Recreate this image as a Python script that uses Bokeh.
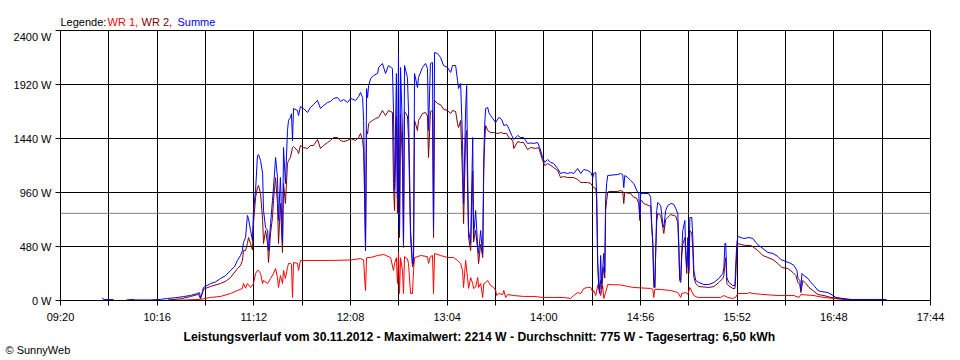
from bokeh.plotting import figure
from bokeh.models import FixedTicker, Span, ColumnDataSource, Title
from bokeh.layouts import column
from bokeh.core.properties import value
from bokeh.embed import file_html
from bokeh.resources import INLINE

NAN = float("nan")

# ---- data: time in minutes of the day, power in W ----
X_TICK_LABELS = ["09:20", "10:16", "11:12", "12:08", "13:04", "14:00", "14:56", "15:52", "16:48", "17:44"]
Y_TICKS = [0, 480, 960, 1440, 1920, 2400]
AVERAGE = 775
TITLE = "Leistungsverlauf vom 30.11.2012 - Maximalwert: 2214 W - Durchschnitt: 775 W - Tagesertrag: 6,50 kWh"
LEGEND_TEXTS = ["Legende:", "WR 1,", "WR 2,", "Summe"]
LEGEND_COLORS = ["black", "#FF0000", "#800000", "#0000FF"]

sum_t = [584.3, 584.9, 590.7, 594.2, 598.2, 602.3, 603.5, 612.1, 617.9, 622.0, 626.6, 631.3, 635.3, 638.8, 640.5,
         641.1, 642.3, 642.8, 646.9, 649.8, 652.7, 655.6, 658.5, 660.8, 662.5, 664.3, 665.4, 666.0, 667.2, 668.3,
         668.9, 670.1, 671.2, 671.8, 673.0, 674.1, 674.7, 675.9, 677.1, 677.6, 678.8, 680.0, 680.5, 681.7, 682.8,
         683.4, 684.6, 685.7, 686.3, 687.4, 688.6, 689.2, 690.3, 691.5, 692.1, 693.2, 693.8, 694.4, 695.0, 697.3,
         697.9, 699.0, 700.8, 703.1, 704.8, 706.6, 708.9, 710.6, 712.4, 714.7, 716.4, 718.2, 720.5, 722.3, 724.0,
         726.3, 728.1, 731.0, 732.7, 733.8, 735.0, 735.6, 736.2, 736.7, 737.3, 737.9, 738.5, 739.7, 741.4, 743.7,
         744.3, 746.5, 748.3, 750.0, 752.3, 752.9, 753.5, 754.6, 755.2, 755.8, 756.4, 757.0, 758.1, 758.7, 759.3,
         761.0, 761.6, 762.8, 763.9, 764.5, 765.1, 766.8, 767.4, 769.7, 771.5, 772.6, 773.2, 774.3, 775.5, 776.1,
         776.7, 778.4, 780.2, 781.9, 784.2, 786.0, 787.1, 788.9, 790.0, 790.6, 791.8, 792.9, 793.5, 794.7, 795.3,
         795.8, 796.4, 797.6, 798.8, 799.3, 800.5, 801.7, 802.2, 803.4, 804.0, 804.6, 805.2, 805.7, 806.3, 807.5,
         808.1, 809.2, 810.4, 812.1, 813.9, 815.6, 816.8, 818.5, 819.7, 821.4, 822.6, 824.9, 826.5, 828.3, 830.6,
         832.4, 834.1, 836.4, 837.6, 839.3, 840.5, 842.2, 844.0, 845.7, 848.0, 849.7, 851.5, 853.8, 855.5, 857.3,
         859.6, 861.4, 863.1, 865.4, 867.2, 868.4, 868.9, 870.1, 870.6, 871.2, 871.8, 872.4, 872.9, 873.5, 874.1,
         874.7, 875.3, 875.8, 876.4, 877.0, 882.8, 884.5, 885.7, 886.3, 886.9, 888.6, 890.3, 892.1, 894.4, 895.0,
         895.6, 896.1, 897.9, 900.8, 901.9, 902.5, 903.1, 903.7, 904.3, 904.8, 905.4, 906.0, 907.7, 908.9, 909.5,
         910.6, 911.8, 913.5, 915.3, 916.4, 917.6, 918.2, 918.7, 919.3, 919.9, 920.5, 921.7, 922.2, 922.8, 923.4,
         924.0, 924.6, 925.7, 926.3, 926.9, 928.0, 929.8, 932.7, 935.6, 938.5, 941.4, 943.7, 944.3, 944.9, 945.4,
         946.0, 947.2, 949.5, 950.7, 951.2, 951.8, 952.4, 954.1, 955.9, 958.8, 961.1, 962.8, 964.6, 966.9, 969.8,
         972.7, 975.6, 977.3, 980.2, 983.1, 984.9, 986.6, 987.2, 988.3, 988.9, 989.5, 990.7, 993.0, 994.7, 996.5,
         998.8, 1000.5, 1004.6, 1007.5, 1009.2, 1013.3, 1017.9, 1038.2, 1038.8]
summe = [25, 8, 8, NAN, 5, 10, 5, 5, 10, 18, 25, 35, 45, 60, 70,
         25, 80, 116, 150, 165, 196, 220, 267, 300, 356, 400, 444, 516, 560, 756,
         729, 622, 533, 800, 978, 1289, 1298, 1244, 1129, 800, 649, 622, 444, 684, 889,
         1004, 1271, 1093, 711, 1093, 507, 1360, 1040, 1511, 1600, 1627, 1660, 1420, 1707, 1689,
         1644, 1724, 1707, 1671, 1716, 1742, 1778, 1707, 1733, 1760, 1769, 1796, 1804, 1769, 1787,
         1760, 1796, 1778, 1813, 1849, 1804, 1600, 1000, 444, 1884, 1804, 1911, 1973, 2000, 2018,
         2071, 2107, 2018, 2089, 2062, 1689, 978, 2018, 916, 2196, 622, 2071, 1511, 507, 2089,
         1982, 1689, 622, 329, 356, 2018, 1893, 1982, 2071, 2107, 2062, 1511, 2107, 2116, 622,
         2204, 2196, 2160, 2089, 2071, 2027, 2089, 2089, 1956, 1884, 1929, 1422, 862, 1700, 1911,
         1218, 622, 507, 1449, 560, 800, 471, 418, 622, 500, 420, 1250, 1556, 1707, 1716,
         1671, 1644, 1618, 1582, 1627, 1609, 1556, 1564, 1529, 1467, 1431, 1467, 1449, 1449, 1396,
         1400, 1396, 1404, 1360, 1271, 1227, 1253, 1227, 1218, 1173, 1129, 1138, 1129, 1138, 1129,
         1173, 1129, 1164, 1156, 1138, 1093, 1129, 1138, 951, 356, 100, 62, 400, 150, 280,
         420, 250, 900, 1040, 1111, 1120, 1129, 1120, 1004, 1111, 1093, 1067, 1040, 960, 955,
         738, 950, 951, 951, 916, 684, 533, 204, 116, 444, 800, 871, 844, 684, 649,
         800, 844, 862, 855, 818, 773, 500, 204, 178, 444, 622, 711, 444, 293, 560,
         267, 738, 738, 560, 267, 178, 160, 142, 142, 160, 196, 240, 293, 507, 507,
         204, 160, 133, 133, 329, 507, 569, 560, 551, 560, 551, 516, 489, 462, 427,
         418, 391, 364, 347, 329, 311, 267, 196, 178, 89, 240, 222, 196, 160, 133,
         89, 80, 71, 44, 27, 18, 9, 9, 2]

wr2_t = [622.0, 629.5, 635.3, 639.9, 641.1, 642.3, 642.8, 646.9, 652.7, 655.6, 658.5, 662.5, 664.3, 665.4, 666.0,
         667.2, 668.3, 668.9, 670.1, 671.2, 671.8, 673.0, 674.1, 674.7, 675.9, 677.1, 677.6, 678.8, 680.0, 680.5,
         681.7, 682.8, 683.4, 684.6, 685.7, 686.3, 687.4, 688.6, 689.2, 690.3, 691.5, 692.1, 693.2, 694.4, 695.0,
         697.3, 697.9, 699.0, 700.8, 703.1, 704.8, 706.6, 708.9, 710.6, 712.4, 714.7, 716.4, 718.2, 720.5, 722.3,
         724.0, 726.3, 728.1, 731.0, 732.7, 733.8, 735.0, 735.6, 736.2, 736.7, 737.3, 737.9, 738.5, 739.7, 740.8,
         742.5, 744.3, 746.5, 748.3, 750.0, 752.3, 752.9, 753.5, 754.6, 755.2, 755.8, 756.4, 757.0, 758.1, 758.7,
         759.3, 761.0, 761.6, 762.8, 763.9, 764.5, 765.1, 766.8, 767.4, 769.7, 771.5, 772.6, 773.2, 774.3, 775.5,
         776.1, 776.7, 778.4, 780.2, 781.9, 784.2, 786.0, 787.1, 788.9, 790.0, 790.6, 791.8, 792.9, 793.5, 794.7,
         795.3, 795.8, 796.4, 797.6, 798.8, 799.3, 800.5, 801.7, 802.2, 803.4, 804.6, 805.2, 805.7, 806.3, 807.5,
         809.2, 811.0, 813.3, 815.0, 816.8, 818.5, 819.7, 822.0, 822.6, 824.9, 826.5, 828.3, 830.6, 832.4, 835.3,
         837.0, 839.3, 840.5, 842.2, 844.0, 845.7, 848.0, 849.7, 851.5, 853.8, 857.3, 859.6, 861.4, 863.1, 865.4,
         867.2, 868.9, 870.1, 870.6, 871.2, 871.8, 872.4, 872.9, 873.5, 874.1, 874.7, 875.3, 875.8, 876.4, 877.0,
         877.6, 882.8, 884.5, 885.7, 886.3, 886.9, 890.3, 892.1, 893.8, 895.0, 895.6, 896.1, 896.7, 897.9, 900.8,
         901.9, 902.5, 903.1, 903.7, 904.3, 904.8, 905.4, 906.0, 907.7, 908.9, 909.5, 910.6, 911.8, 913.5, 916.4,
         917.6, 918.2, 918.7, 919.3, 919.9, 920.5, 921.7, 922.2, 922.8, 923.4, 924.0, 924.6, 925.7, 926.3, 926.9,
         928.0, 929.8, 935.6, 938.5, 941.4, 943.7, 944.3, 944.9, 945.4, 946.0, 947.2, 949.5, 950.7, 951.2, 951.8,
         952.4, 954.1, 957.0, 959.9, 961.7, 964.0, 966.9, 969.8, 972.7, 975.6, 977.9, 981.4, 984.3, 986.0, 987.2,
         988.3, 988.9, 990.1, 991.8, 993.6, 995.9, 998.8, 1002.3, 1006.3, 1010.4, 1016.2, 1029.5, 1035.3]
wr2 = [5, 15, 35, 55, 15, 70, 100, 125, 151, 170, 204, 284, 311, 356, 444,
       444, 507, 560, 507, 450, 684, 916, 1004, 1022, 951, 711, 507, 622, 500, 338,
       600, 738, 889, 1093, 862, 507, 862, 427, 1040, 862, 1218, 1244, 1271, 1360, 1369,
       1333, 1307, 1378, 1360, 1351, 1378, 1378, 1431, 1351, 1378, 1404, 1422, 1449, 1449, 1422,
       1413, 1422, 1440, 1422, 1449, 1484, 1422, 1333, 900, 444, 1511, 1480, 1573, 1590, 1600,
       1618, 1627, 1689, 1644, 1689, 1671, 1040, 800, 1640, 773, 1716, 560, 1660, 1218, 471,
       1680, 1640, 1449, 560, 300, 320, 1600, 1511, 1600, 1662, 1671, 1640, 1271, 1680, 1689,
       560, 1778, 1751, 1740, 1700, 1689, 1662, 1689, 1680, 1573, 1538, 1600, 1093, 684, 1450,
       1511, 1000, 560, 444, 1150, 520, 622, 444, 329, 500, 382, 1156, 1396, 1556, 1511,
       1493, 1493, 1484, 1493, 1484, 1484, 1449, 1422, 1351, 1413, 1404, 1404, 1342, 1360, 1351,
       1360, 1244, 1200, 1218, 1200, 1182, 1156, 1093, 1102, 1093, 1093, 1076, 1049, 1049, 1049,
       1040, 1004, 995, 900, 329, 150, 100, 178, 100, 200, 300, 200, 800, 889, 960,
       969, 969, 978, 970, 862, 960, 951, 916, 910, 862, 711, 880, 889, 862, 844,
       840, 650, 500, 116, 116, 420, 700, 773, 756, 650, 596, 720, 738, 764, 750,
       693, 450, 178, 160, 400, 500, 560, 400, 240, 450, 240, 622, 600, 450, 204,
       151, 124, 116, 124, 160, 196, 222, 329, 380, 151, 130, 107, 107, 222, 444,
       507, 498, 489, 489, 471, 444, 400, 382, 364, 329, 293, 284, 249, 222, 160,
       140, 71, 178, 151, 116, 89, 53, 44, 27, 18, 9, 5, 0]

wr1_t = [623.7, 632.4, 641.1, 646.9, 652.7, 658.5, 662.5, 665.4, 666.0, 667.2, 668.3, 670.1, 671.8, 673.0, 674.1,
         674.7, 675.9, 677.1, 677.6, 680.0, 681.7, 683.4, 684.6, 685.7, 686.3, 687.4, 688.6, 689.2, 690.3, 691.5,
         692.1, 693.2, 693.8, 694.4, 695.0, 697.3, 697.9, 699.0, 716.4, 728.1, 733.8, 735.6, 736.2, 736.7, 737.3,
         739.7, 743.7, 747.2, 751.2, 752.9, 753.5, 754.6, 755.2, 755.8, 756.4, 757.0, 758.1, 758.7, 759.3, 761.0,
         761.6, 762.8, 763.9, 764.5, 765.1, 768.6, 772.6, 773.2, 774.3, 775.5, 776.1, 776.7, 780.2, 784.2, 787.7,
         790.0, 791.8, 792.9, 793.5, 794.7, 795.8, 796.4, 797.6, 798.8, 799.3, 800.5, 801.7, 802.2, 803.4, 804.6,
         805.2, 806.3, 807.5, 808.1, 809.2, 811.0, 812.1, 812.7, 813.9, 816.2, 816.8, 817.9, 819.1, 822.6, 828.3,
         834.1, 839.9, 845.7, 851.5, 855.5, 857.3, 859.6, 861.4, 863.1, 865.4, 867.2, 868.4, 868.9, 870.1, 871.2,
         871.8, 872.9, 874.1, 874.7, 875.8, 877.0, 884.5, 888.6, 892.1, 896.1, 901.9, 903.1, 903.7, 904.3, 907.7,
         913.5, 917.6, 919.3, 919.9, 922.2, 923.4, 924.6, 926.9, 929.2, 942.5, 944.3, 946.6, 949.5, 951.2, 952.4,
         958.2, 958.8, 961.1, 967.5, 975.6, 984.9, 987.8, 988.9, 996.5, 998.8, 1002.3, 1008.1, 1013.9, 1023.7, 1029.5]
wr1 = [0, 5, 10, 27, 36, 62, 89, 107, 151, 110, 151, 116, 150, 240, 267,
       267, 240, 151, 178, 151, 196, 240, 284, 204, 116, 222, 151, 267, 196, 293,
       329, 329, 320, 27, 338, 330, 267, 356, 356, 360, 373, 360, 200, 89, 380,
       382, 400, 409, 382, 267, 330, 380, 151, 427, 62, 380, 267, 62, 390, 370,
       329, 62, 62, 267, 380, 400, 390, 329, 390, 400, 62, 418, 400, 382, 382,
       356, 329, 267, 116, 356, 204, 107, 204, 151, 107, 120, 204, 116, 151, 27,
       151, 160, 178, 160, 133, 116, 89, 44, 62, 53, 89, 27, 53, 44, 36,
       36, 27, 27, 27, 18, 44, 71, 62, 107, 116, 116, 71, 89, 44, 133,
       151, 44, 133, 18, 71, 142, 138, 125, 116, 112, 107, 100, 27, 100, 98,
       89, 71, 27, 62, 71, 55, 116, 44, 27, 27, 44, 27, 18, 30, 62,
       62, 71, 62, 53, 44, 44, 27, 53, 44, 36, 27, 18, 9, 2, 0]


def to_min(s):
    h, m = s.split(":")
    return int(h) * 60 + int(m)


x_major = [to_min(s) for s in X_TICK_LABELS]
x_minor = [(a + b) / 2 for a, b in zip(x_major[:-1], x_major[1:])]

FONT = "Liberation Sans"
W = 960
TOP_H = 30
FRAME_W = 870  # the header's frame is aligned with the chart frame by the column layout

# --- header strip with the coloured legend text (1 unit = 1 px inside the aligned frame) ---
top = figure(width=W, height=TOP_H, x_range=(0, FRAME_W), y_range=(0, TOP_H), output_backend="svg",
             toolbar_location=None, x_axis_type=None, y_axis_type=None, min_border=0)
top.grid.visible = False
top.outline_line_color = None
top.background_fill_color = "white"
top.border_fill_color = "white"
top.text(x=[0, 47, 81, 117], y=[9, 9, 9, 9], text=LEGEND_TEXTS, text_color=LEGEND_COLORS,
         text_font=value(FONT), text_font_size="11px", text_baseline="alphabetic", text_align="left")

# --- main chart ---
p = figure(width=W, height=330, x_range=(x_major[0], x_major[-1]), y_range=(Y_TICKS[0], Y_TICKS[-1]),
           output_backend="svg", toolbar_location=None,
           min_border_left=60, min_border_right=30, min_border_top=0, min_border_bottom=60)
p.background_fill_color = "white"
p.border_fill_color = "white"
p.outline_line_color = "black"
p.outline_line_width = 1

xt = FixedTicker(ticks=x_major, minor_ticks=x_minor)
yt = FixedTicker(ticks=Y_TICKS, minor_ticks=[])
p.xaxis.ticker = xt
p.yaxis.ticker = yt
p.xgrid.ticker = xt
p.ygrid.ticker = yt
p.xaxis.major_label_overrides = {t: s for t, s in zip(x_major, X_TICK_LABELS)}
p.yaxis.major_label_overrides = {t: f"{t} W" for t in Y_TICKS}

for ax in (p.xaxis, p.yaxis):
    ax.axis_line_color = "black"
    ax.major_tick_line_color = "black"
    ax.minor_tick_line_color = "black"
    ax.major_tick_in = 0
    ax.major_tick_out = 5
    ax.minor_tick_in = 0
    ax.major_label_text_font = FONT
    ax.major_label_text_font_size = "11px"
    ax.major_label_text_color = "black"
p.xaxis.minor_tick_out = 5
p.yaxis.minor_tick_out = 0
p.xaxis.major_label_standoff = 5
p.yaxis.major_label_standoff = 4

p.xgrid.grid_line_color = "black"
p.xgrid.minor_grid_line_color = "black"
p.ygrid.grid_line_color = "black"

p.add_layout(Span(location=AVERAGE, dimension="width", line_color="#808080", line_width=1, level="underlay"))

p.line("t", "v", source=ColumnDataSource(dict(t=wr1_t, v=wr1)), line_color="#FF0000", line_width=1)
p.line("t", "v", source=ColumnDataSource(dict(t=wr2_t, v=wr2)), line_color="#800000", line_width=1)
p.line("t", "v", source=ColumnDataSource(dict(t=sum_t, v=summe)), line_color="#0000FF", line_width=1)

p.add_layout(Title(text=TITLE, align="left", offset=123, text_font=FONT, text_font_size="12.2px",
                   text_font_style="bold", text_color="black", standoff=4), "below")
p.add_layout(Title(text="\u00a9 SunnyWeb", align="left", offset=-55, text_font=FONT, text_font_size="11px",
                   text_font_style="normal", text_color="black", standoff=-7), "below")

layout = column(top, p, spacing=0)
open("out.html", "w").write(file_html(layout, INLINE))
